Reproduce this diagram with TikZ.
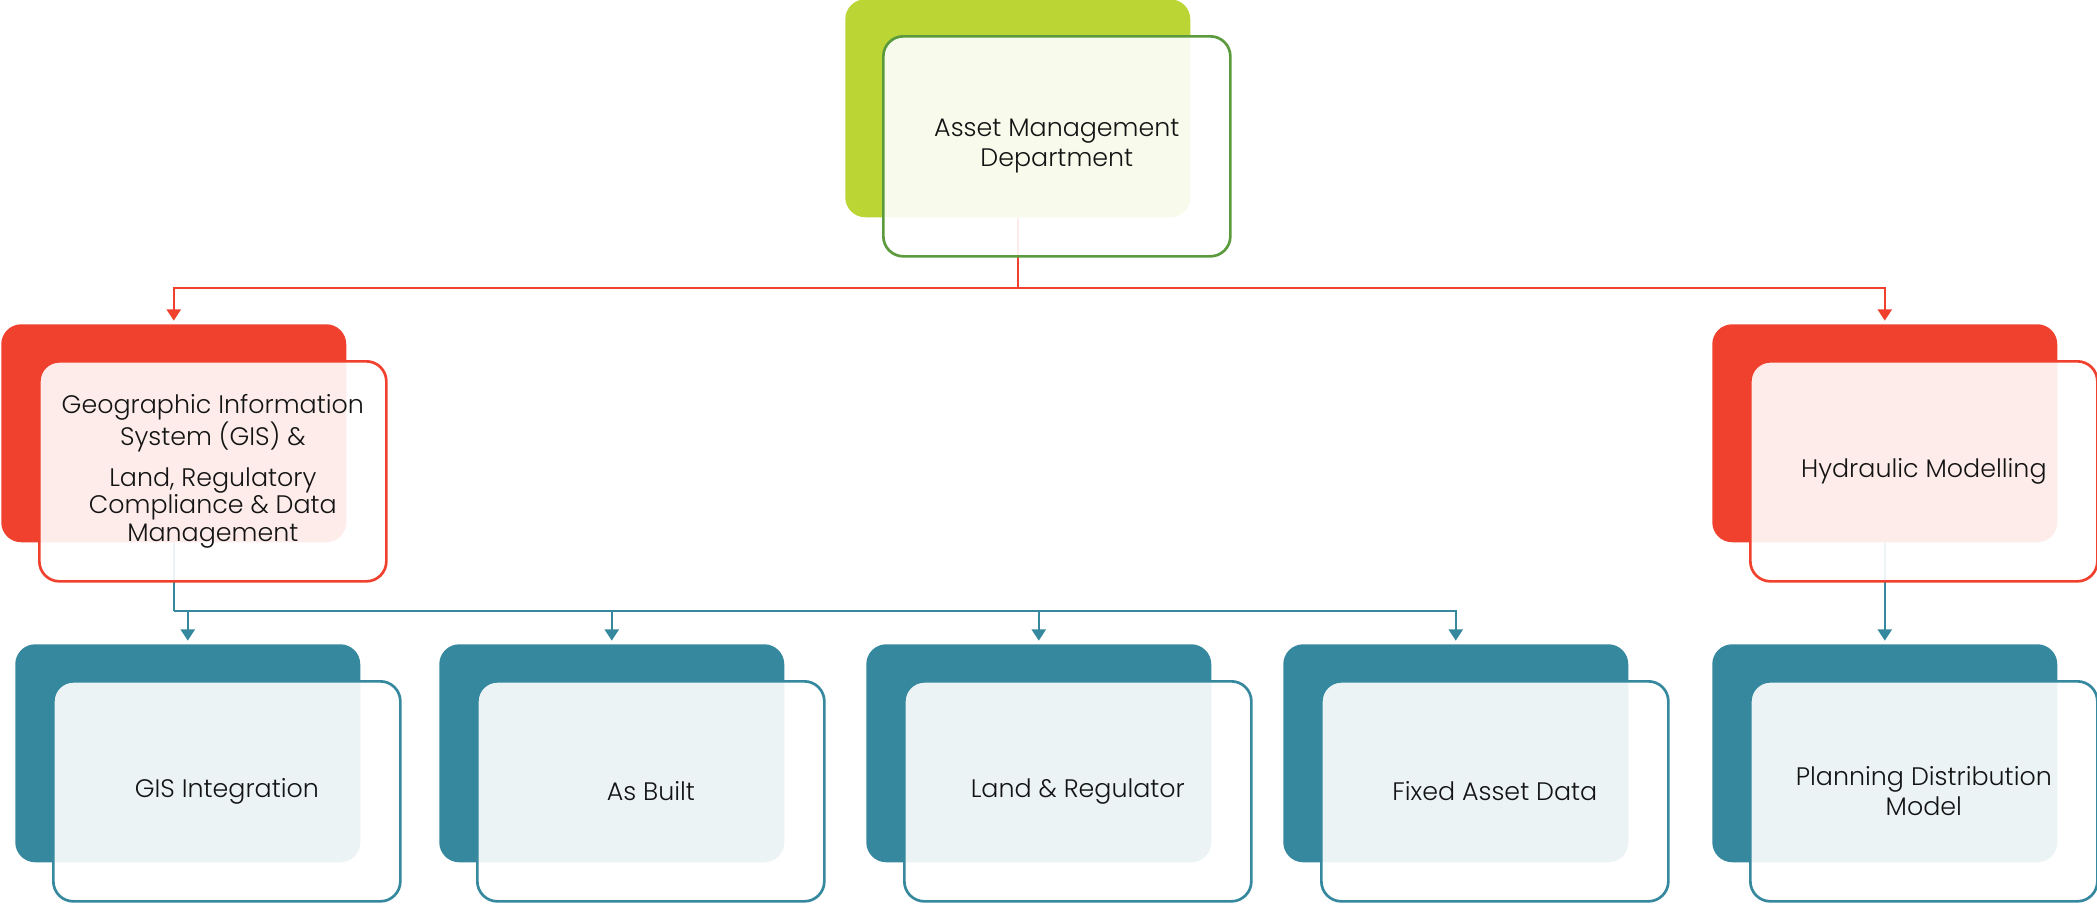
\documentclass[tikz,border=0pt]{standalone}
\usepackage{fontspec}
\setmainfont{Poppins Light}
\usetikzlibrary{arrows.meta}
\pgfdeclarelayer{links}
\pgfsetlayers{links,main}
\definecolor{leafgreen}{HTML}{BBD534}
\definecolor{leafedge}{HTML}{5B9B3E}
\definecolor{brickred}{HTML}{F0412E}
\definecolor{tealblue}{HTML}{35889E}
\definecolor{inktext}{HTML}{141414}

\tikzset{
  backcard/.style={rectangle, rounded corners=15pt, fill=#1, draw=none,
    minimum width=258.75pt, minimum height=163.5pt, anchor=north west, inner sep=0pt},
  frontcard/.style={rectangle, rounded corners=15pt, fill=white, fill opacity=0.9,
    text opacity=1, draw=#1, line width=2pt,
    minimum width=260.25pt, minimum height=165pt, anchor=north west, inner sep=0pt,
    align=center, text=inktext, font=\fontsize{19}{22.5}\selectfont},
  linkline/.style={draw=#1, line width=1.9pt, shorten >=2.5pt,
    -{Triangle[width=10.5pt,length=8.5pt]}},
  busline/.style={draw=#1, line width=1.9pt}
}

% a coloured back card with a translucent outlined card on top of it
\newcommand\cardpair[6]{%
  \node[backcard=#4] (#1B) at (#2,#3) {};
  \node[frontcard=#5] (#1) at ({#2+37},{#3+36}) {#6};
}

\begin{document}
\begin{tikzpicture}[x=0.75pt,y=-0.75pt]
\useasboundingbox (0,0) rectangle (2097,903);

\cardpair{amd}{845}{-1}{leafgreen}{leafedge}{Asset Management\\Department}
\cardpair{gis}{1}{324}{brickred}{brickred}{Geographic Information\\System (GIS) \&\\[8pt]Land, Regulatory\\[-2pt]Compliance \& Data\\[-2pt]Management}
\cardpair{hyd}{1712}{324}{brickred}{brickred}{Hydraulic Modelling}
\cardpair{gisint}{15}{644}{tealblue}{tealblue}{GIS Integration}
\cardpair{asb}{439}{644}{tealblue}{tealblue}{As Built}
\cardpair{land}{866}{644}{tealblue}{tealblue}{Land \& Regulator}
\cardpair{fixed}{1283}{644}{tealblue}{tealblue}{Fixed Asset Data}
\cardpair{plan}{1712}{644}{tealblue}{tealblue}{Planning Distribution\\Model}

\coordinate (redbus) at (0,288);
\coordinate (tealbus) at (0,611);

\begin{pgfonlayer}{links}
  % first level
  \draw[busline=brickred] (amdB.south) -- (amdB.south |- redbus);
  \draw[linkline=brickred] (amdB.south |- redbus) -| (gisB.north);
  \draw[linkline=brickred] (amdB.south |- redbus) -| (hydB.north);
  % second level, GIS branch
  \draw[busline=tealblue] (gisB.south) -- (gisB.south |- tealbus);
  \draw[linkline=tealblue] (gisB.south |- tealbus) -| (gisintB.north);
  \draw[linkline=tealblue] (gisB.south |- tealbus) -| (asbB.north);
  \draw[linkline=tealblue] (gisB.south |- tealbus) -| (landB.north);
  \draw[linkline=tealblue] (gisB.south |- tealbus) -| (fixedB.north);
  % second level, hydraulic branch
  \draw[linkline=tealblue] (hydB.south) -- (planB.north);
\end{pgfonlayer}
\end{tikzpicture}
\end{document}
